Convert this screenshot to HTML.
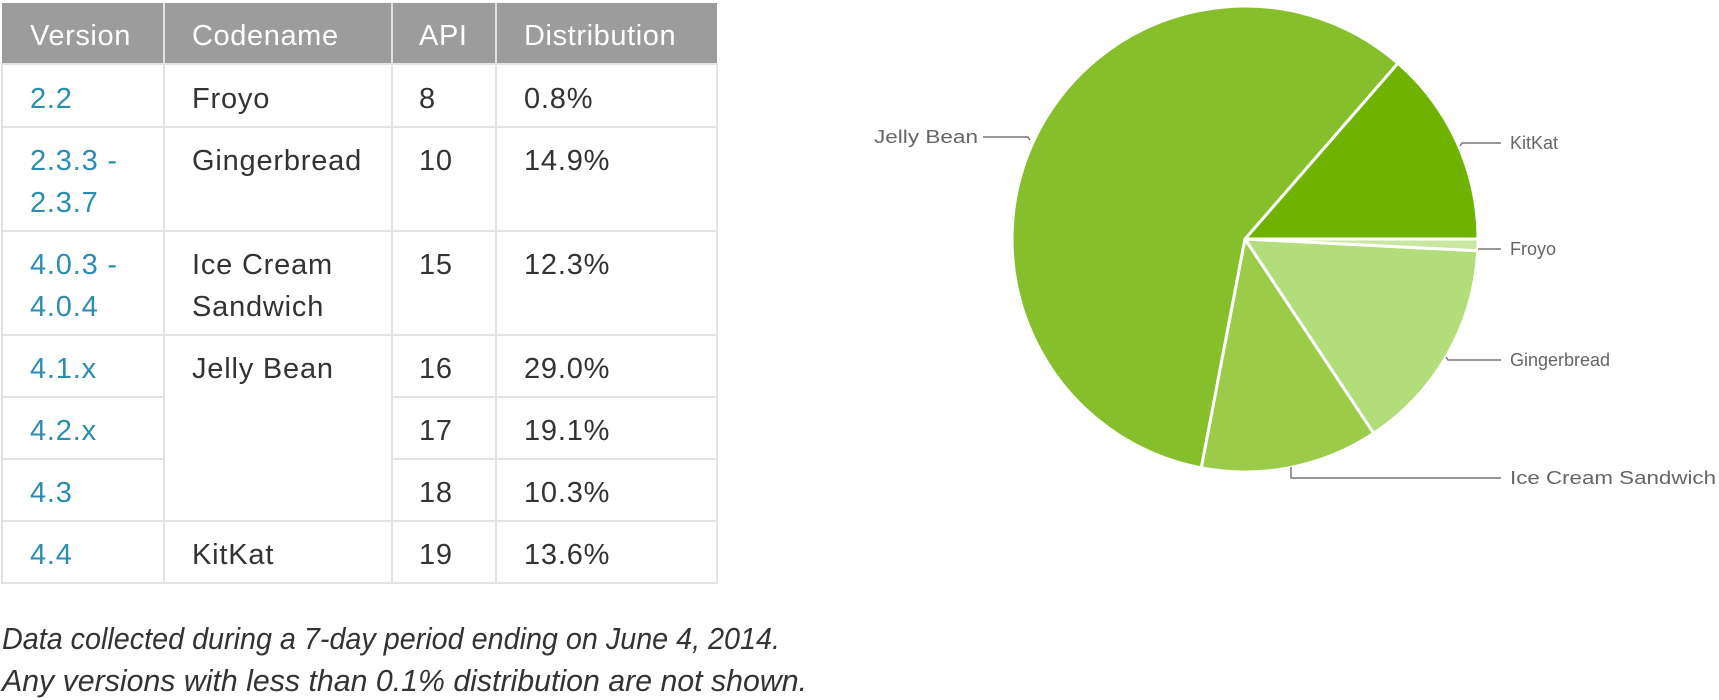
<!DOCTYPE html>
<html><head><style>
html,body{margin:0;padding:0;background:#fff;}
svg{display:block;}
text{font-family:"Liberation Sans",sans-serif;}
</style></head><body>
<svg width="1719" height="700" viewBox="0 0 1719 700" xmlns="http://www.w3.org/2000/svg">
<rect x="2" y="3" width="715" height="61" fill="#9c9c9c"/>
<g stroke="#e2e2e2" stroke-width="2" fill="none">
<line x1="164" y1="3" x2="164" y2="64"/>
<line x1="392" y1="3" x2="392" y2="64"/>
<line x1="496" y1="3" x2="496" y2="64"/>
</g>
<g fill="#fff" font-size="29" letter-spacing="0.6">
<text x="30" y="45">Version</text>
<text x="192" y="45">Codename</text>
<text x="419" y="45">API</text>
<text x="524" y="45">Distribution</text>
</g>
<g stroke="#e3e3e3" stroke-width="2" fill="none">
<rect x="2" y="64" width="715" height="519"/>
<line x1="2" y1="127" x2="717" y2="127"/>
<line x1="2" y1="231" x2="717" y2="231"/>
<line x1="2" y1="335" x2="717" y2="335"/>
<line x1="2" y1="397" x2="164" y2="397"/>
<line x1="392" y1="397" x2="717" y2="397"/>
<line x1="2" y1="459" x2="164" y2="459"/>
<line x1="392" y1="459" x2="717" y2="459"/>
<line x1="2" y1="521" x2="717" y2="521"/>
<line x1="164" y1="64" x2="164" y2="583"/>
<line x1="392" y1="64" x2="392" y2="583"/>
<line x1="496" y1="64" x2="496" y2="583"/>
</g>
<g font-size="29" letter-spacing="0.8" fill="#2b8db3">
<text x="30" y="108">2.2</text>
<text x="30" y="170">2.3.3 -</text>
<text x="30" y="212">2.3.7</text>
<text x="30" y="274">4.0.3 -</text>
<text x="30" y="316">4.0.4</text>
<text x="30" y="378">4.1.x</text>
<text x="30" y="440">4.2.x</text>
<text x="30" y="502">4.3</text>
<text x="30" y="564">4.4</text>
</g>
<g font-size="29" letter-spacing="0.8" fill="#333">
<text x="192" y="108">Froyo</text>
<text x="192" y="170">Gingerbread</text>
<text x="192" y="274">Ice Cream</text>
<text x="192" y="316">Sandwich</text>
<text x="192" y="378">Jelly Bean</text>
<text x="192" y="564">KitKat</text>
<text x="419" y="108">8</text>
<text x="419" y="170">10</text>
<text x="419" y="274">15</text>
<text x="419" y="378">16</text>
<text x="419" y="440">17</text>
<text x="419" y="502">18</text>
<text x="419" y="564">19</text>
<text x="524" y="108">0.8%</text>
<text x="524" y="170">14.9%</text>
<text x="524" y="274">12.3%</text>
<text x="524" y="378">29.0%</text>
<text x="524" y="440">19.1%</text>
<text x="524" y="502">10.3%</text>
<text x="524" y="564">13.6%</text>
</g>
<g font-size="31" font-style="italic" fill="#333">
<text x="2" y="649" textLength="778" lengthAdjust="spacingAndGlyphs">Data collected during a 7-day period ending on June 4, 2014.</text>
<text x="2" y="691" textLength="805" lengthAdjust="spacingAndGlyphs">Any versions with less than 0.1% distribution are not shown.</text>
</g>
<g stroke="#fff" stroke-width="3" stroke-linejoin="round">
<path d="M1245,239 L1478,239 A233,233 0 0 0 1397.9,63.2 Z" fill="#6fb300"/>
<path d="M1245,239 L1397.9,63.2 A233,233 0 1 0 1201.3,467.9 Z" fill="#86bf2b"/>
<path d="M1245,239 L1201.3,467.9 A233,233 0 0 0 1373.7,433.3 Z" fill="#9ccb4a"/>
<path d="M1245,239 L1373.7,433.3 A233,233 0 0 0 1477.7,250.8 Z" fill="#b3dc7a"/>
<path d="M1245,239 L1477.7,250.8 A233,233 0 0 0 1478,239 Z" fill="#c9e7a0"/>
</g>
<g stroke="#777" stroke-width="1.5" fill="none">
<polyline points="983,137 1028,137 1030,140"/>
<polyline points="1460,146 1462,143 1501,143"/>
<polyline points="1478,249 1501,249"/>
<polyline points="1446,357 1448,360 1501,360"/>
<polyline points="1291,467 1291,478 1501,478"/>
</g>
<g font-size="18" fill="#666">
<text x="874" y="143" textLength="104" lengthAdjust="spacingAndGlyphs">Jelly Bean</text>
<text x="1510" y="149">KitKat</text>
<text x="1510" y="255">Froyo</text>
<text x="1510" y="366">Gingerbread</text>
<text x="1510" y="484" textLength="206" lengthAdjust="spacingAndGlyphs">Ice Cream Sandwich</text>
</g>
</svg>
</body></html>
